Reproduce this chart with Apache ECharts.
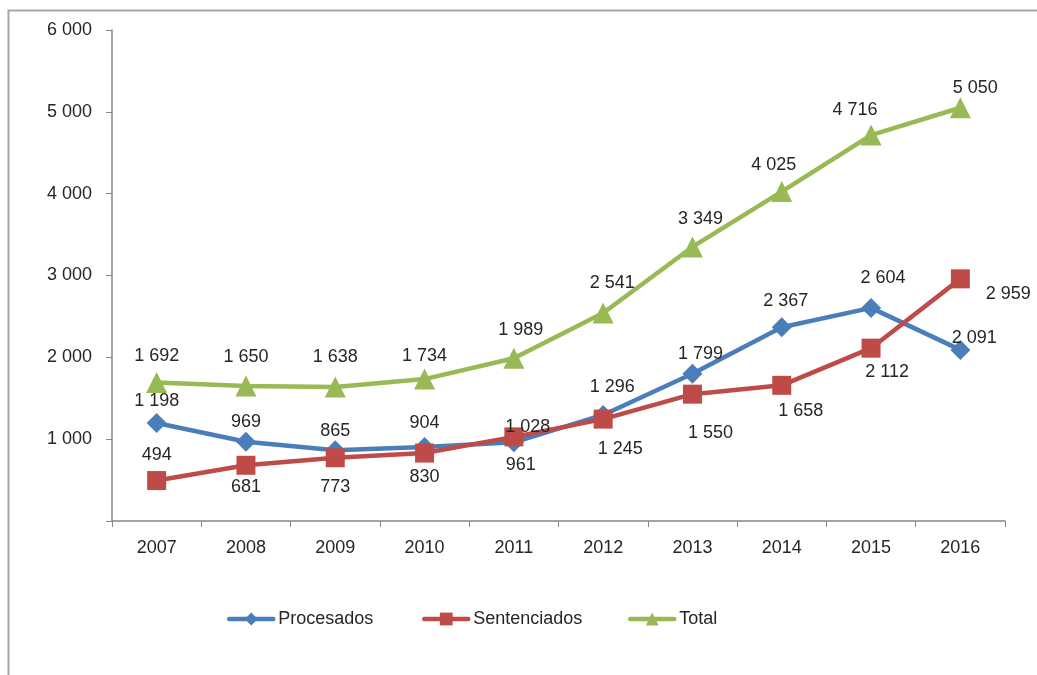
<!DOCTYPE html>
<html><head><meta charset="utf-8">
<script src="https://cdn.jsdelivr.net/npm/echarts@6/dist/echarts.min.js"></script>
<style>html,body{margin:0;padding:0;background:#fff}#c{width:1037px;height:675px}</style>
</head><body><div id="c"></div>
<script>
var years = ['2007','2008','2009','2010','2011','2012','2013','2014','2015','2016'];
var procesados = [1198, 969, 865, 904, 961, 1296, 1799, 2367, 2604, 2091];
var sentenciados = [494, 681, 773, 830, 1028, 1245, 1550, 1658, 2112, 2959];
var total = [1692, 1650, 1638, 1734, 1989, 2541, 3349, 4025, 4716, 5050];
var seriesNames = ['Procesados', 'Sentenciados', 'Total'];

// label offsets [dx, dy] relative to point (styling only)
var procOff = [[0,-22],[0,-20],[0,-19],[0,-24],[7,23],[9,-28],[8,-20],[4,-26],[12,-30],[14,-12]];
var sentOff = [[0,-26],[0,22],[0,29],[0,24],[14,-10],[17,30],[18,39],[19,26],[16,24],[48,15]];
var totOff  = [[0,-27],[0,-29],[0,-30],[0,-23],[7,-28],[9,-30],[8,-28],[-8,-27],[-16,-25],[15,-20]];

var FONT = '"Liberation Sans","Arial",sans-serif';
var TXT = '#262626';
function fmt(v){ return String(v).replace(/\B(?=(\d{3})+(?!\d))/g, ' '); }
function items(vals, offs){
  return vals.map(function(v,i){ return {value: v, label: {offset: offs[i]}}; });
}
function mkSeries(name, vals, offs, color, symbol, size){
  return {
    name: name, type: 'line', data: items(vals, offs),
    symbol: symbol, symbolSize: size, showAllSymbol: true,
    lineStyle: {color: color, width: 4.5}, itemStyle: {color: color},
    label: {show: true, position: 'inside', color: TXT, fontFamily: FONT, fontSize: 18,
      formatter: function(p){ return fmt(p.value); }},
    z: 3
  };
}
function mkLegend(name, left){
  return {
    data: [name], left: left, top: 610, padding: 0, itemWidth: 44, itemHeight: 16, itemGap: 0,
    lineStyle: {width: 4.5, cap: 'round'},
    textStyle: {fontFamily: FONT, fontSize: 18, color: TXT}
  };
}
var chart = echarts.init(document.getElementById('c'));
chart.setOption({
  animation: false,
  textStyle: {fontFamily: FONT},
  graphic: [{type: 'rect', shape: {x: 8.5, y: 10.5, width: 1040, height: 680},
    style: {fill: 'none', stroke: '#a6a6a6', lineWidth: 2}, silent: true}],
  grid: {left: 112, right: 32, top: 30, bottom: 154},
  legend: [mkLegend(seriesNames[0], 227), mkLegend(seriesNames[1], 422), mkLegend(seriesNames[2], 628)],
  xAxis: {
    type: 'category', data: years, boundaryGap: true,
    axisLine: {lineStyle: {color: '#868686', width: 1.5}},
    axisTick: {show: true, alignWithLabel: false, length: 6, lineStyle: {color: '#868686'}},
    axisLabel: {color: TXT, fontSize: 18, fontFamily: FONT, margin: 18},
    splitLine: {show: false}
  },
  yAxis: {
    type: 'value', min: 0, max: 6000, interval: 1000,
    axisLine: {show: true, lineStyle: {color: '#868686', width: 1.5}},
    axisTick: {show: true, length: 6, lineStyle: {color: '#868686'}},
    axisLabel: {color: TXT, fontSize: 18, fontFamily: FONT, margin: 20,
      formatter: function(v){ return v === 0 ? '' : fmt(v); }},
    splitLine: {show: false}
  },
  series: [
    mkSeries(seriesNames[0], procesados, procOff, '#4a7ebb', 'diamond', 20),
    mkSeries(seriesNames[1], sentenciados, sentOff, '#be4b48', 'rect', 19),
    mkSeries(seriesNames[2], total, totOff, '#98b954', 'triangle', 21)
  ]
});
</script></body></html>
